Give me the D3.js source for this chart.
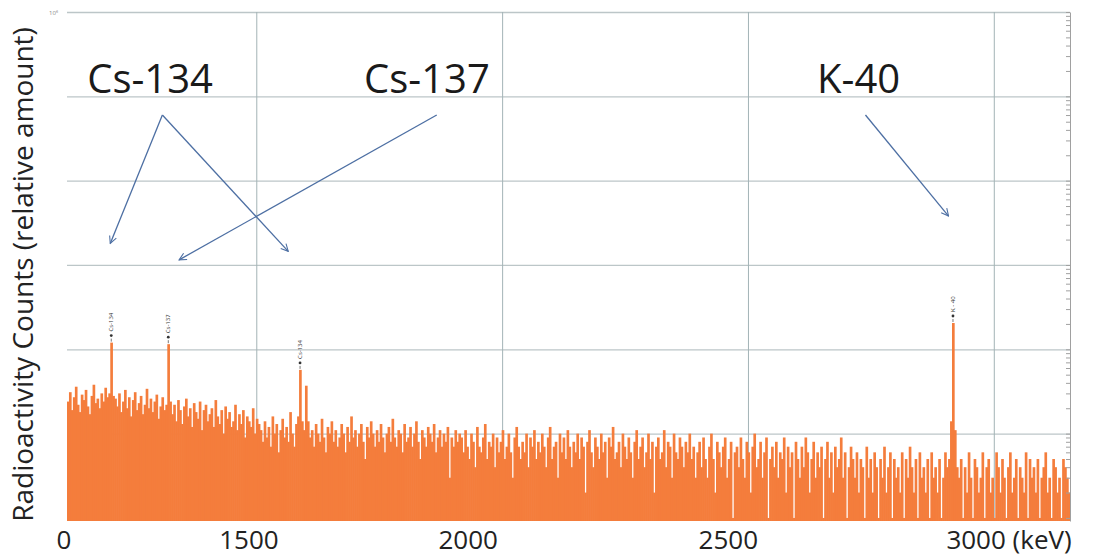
<!DOCTYPE html>
<html lang="en">
<head>
<meta charset="UTF-8">
<title>Gamma spectrum</title>
<script src="https://d3js.org/d3.v7.min.js"></script>
<style>
  body { margin: 0; background: #fff; }
  text { font-family: "Open Sans", sans-serif; }
  .grid .domain { display: none; }
  .hgrid line { stroke: #bcc6c8; stroke-width: 1.3; }
  .vgrid line { stroke: #a3b3b6; stroke-width: 1; }
  .raxis line, .raxis path { stroke: #a0a0a0; }
</style>
</head>
<body>
<div id="chart"></div>
<script>
// counts per bin of 4 channels, first bin starts at channel 1115
var binStart = 1115;
var binWidth = 4;
var counts = [
  24, 31, 19, 27, 36, 22, 18, 29, 25, 33, 21, 17, 28, 38, 23, 26, 20, 30, 24, 35, 27, 30,
  120,
  28, 26, 21, 30, 18, 24, 33, 20, 27, 16, 25, 31, 19, 23, 28, 17, 22, 34, 20, 26, 18, 24, 29, 15, 21, 27, 19, 22,
  115,
  24, 17, 22, 14, 25, 19, 13, 21, 26, 16, 20, 12, 23, 18, 15, 24, 11, 19, 22, 14,
  17, 20, 12, 25, 16, 13, 19, 10, 21, 15, 18, 12, 14, 22, 11, 17, 13, 19, 9, 16,
  14, 12, 20, 10, 15, 13,
  11, 8, 14, 9, 12, 7, 16, 10, 13, 6, 11, 15, 9, 12, 8, 18, 10, 7, 13, 16,
  57, 14, 11, 37,
  14, 9, 11, 7, 13, 10, 8, 15, 9, 6, 12, 10, 14, 8, 11, 7, 9, 13, 10, 6,
  12, 8, 16, 9, 11, 7, 10, 13, 8, 5, 12, 9, 14, 10, 7, 11, 8, 13, 9, 6,
  10, 12, 8, 15, 9, 7, 11, 10, 6, 13, 8, 9, 12, 7, 10, 14, 8, 5, 11, 9,
  7, 12, 10, 8, 13, 6, 9, 11, 7, 10, 8, 12, 3, 9, 7, 11, 8, 10,
  9, 6, 11, 7, 5, 10, 8, 4, 12, 7, 6, 9, 13, 5, 8, 7, 10, 4, 9, 6,
  8, 11, 5, 7, 10, 6, 3, 9, 12, 7, 5, 8, 6, 10, 4, 9, 7, 11, 5, 8,
  6, 10, 7, 4, 9, 12, 5, 7, 8, 3, 10, 6, 9, 5, 11, 7, 4, 8, 6, 10,
  5, 9, 7, 2, 8, 11, 6, 4, 9, 7, 5, 10, 6, 8, 3, 9, 7, 12, 5, 6,
  8, 4, 10, 7, 5, 9, 6, 3, 8, 11, 5, 7, 9, 4, 6, 10, 5, 8, 2, 7,
  9, 5, 6, 11, 4, 8, 7, 3, 10, 6, 5, 9, 7, 4, 8, 6, 10, 5, 7, 3,
  6, 8, 4, 9, 5, 3, 7, 10, 5, 2, 8, 6, 4, 7, 9, 3, 5, 8, 1, 6,
  7, 4, 9, 5, 3, 8, 6, 2, 7, 10, 4, 5, 8, 3, 6, 9, 1, 5, 7, 4,
  8, 3, 6, 5, 9, 2, 7, 4, 6, 1, 8, 5, 3, 7, 4, 9, 6, 2, 5, 8,
  3, 6, 4, 7, 1, 5, 8, 3, 6, 2, 7, 4, 5, 9, 3, 6, 1, 4, 7, 5,
  3, 6, 2, 5, 4, 1, 7, 3, 5, 2, 6, 4, 1, 5, 3, 7, 2, 4, 6, 1,
  5, 3, 4, 2, 6, 1, 5, 3, 7, 4, 2, 5, 1, 6, 3, 4, 2, 5, 1, 6,
  3, 4, 2, 5, 1, 3, 6, 4,
  5, 14, 205, 11, 4,
  3, 5, 1, 4, 2, 6, 3, 1, 5, 4, 2, 3, 6, 1, 4, 5, 2, 3, 1, 6,
  4, 2, 5, 3, 1, 4, 6, 2, 3, 5, 1, 4, 3, 2, 6, 1, 5, 3, 4, 2,
  5, 1, 3, 4, 6, 2, 3, 1, 5, 4, 2, 3, 1, 5, 4, 3, 2
];

var xGrid = [1500, 2000, 2500, 3000];
var yGrid = [10, 100, 1000, 10000, 100000, 1000000];
var xTickAt = [1108, 1484, 1930, 2459, 3030];
var xTickLabels = ["0", "1500", "2000", "2500", "3000 (keV)"];

var peakNames = ["Cs-134", "Cs-137", "Cs-134", "K - 40"];
var peakChannels = [1205, 1321, 1589, 2917];

var calloutNames = ["Cs-134", "Cs-137", "K-40"];
var calloutAt = [[1284, 1.1e5], [1847, 1.1e5], [2725, 1.1e5]];
var arrowFrom = [[1309, 6e4], [1309, 6e4], [1867, 6e4], [2739, 6e4]];
var arrowTo = [[1203, 1800], [1565, 1450], [1343, 1150], [2908, 3800]];

var width = 1101, height = 558;
var chEnd = binStart + binWidth * counts.length;

var svg = d3.select("#chart").append("svg")
  .attr("width", width)
  .attr("height", height);

var x = d3.scaleLinear().domain([binStart, chEnd]).range([67, 1070]);
var y = d3.scaleLog().domain([0.92, 1e6]).range([521, 12]);
var floor = y.domain()[0];

// grid
svg.append("g")
  .attr("class", "grid hgrid")
  .attr("transform", "translate(" + x.range()[0] + ",0)")
  .call(d3.axisLeft(y).tickValues(yGrid).tickSize(-(x.range()[1] - x.range()[0])).tickFormat(""));

svg.append("g")
  .attr("class", "grid vgrid")
  .attr("transform", "translate(0," + y.range()[0] + ")")
  .call(d3.axisBottom(x).tickValues(xGrid).tickSize(-(y.range()[0] - y.range()[1])).tickFormat(""));

// spectrum bars (slight overlap so no seams show)
var barW = x(binStart + binWidth) - x(binStart);
svg.append("g")
  .selectAll("rect")
  .data(counts)
  .join("rect")
  .attr("x", (d, i) => x(binStart + binWidth * i))
  .attr("width", (d, i) => i === counts.length - 1 ? barW : barW + 0.7)
  .attr("y", d => y(Math.max(d, floor)))
  .attr("height", d => y(floor) - y(Math.max(d, floor)))
  .attr("fill", "#f47d3c");

// right-hand log axis with minor ticks
svg.append("g")
  .attr("class", "raxis")
  .attr("transform", "translate(" + x.range()[1] + ",0)")
  .call(d3.axisLeft(y).tickValues(y.ticks().filter(t => t >= 1)).tickSize(4).tickFormat("").tickSizeOuter(0))
  .call(g => g.select(".domain").attr("stroke", "#a0a0a0"));

svg.append("text")
  .attr("x", 58)
  .attr("y", 15)
  .attr("text-anchor", "end")
  .attr("font-size", 6)
  .attr("fill", "#888")
  .text("10⁶");

// x labels
svg.append("g")
  .attr("transform", "translate(0," + y.range()[0] + ")")
  .call(d3.axisBottom(x).tickValues(xTickAt).tickSize(0).tickPadding(10)
    .tickFormat((d, i) => xTickLabels[i]))
  .call(g => g.select(".domain").remove())
  .call(g => g.selectAll("text")
    .attr("font-family", "'Open Sans', sans-serif")
    .attr("font-size", 26)
    .attr("fill", "#222"));

// y title
svg.append("text")
  .attr("transform", "translate(33," + ((y.range()[0] + 28) / 2) + ") rotate(-90)")
  .attr("text-anchor", "middle")
  .attr("font-size", 28)
  .attr("fill", "#222")
  .text("Radioactivity Counts (relative amount)");

// peak markers
peakChannels.forEach(function (ch, k) {
  var i = Math.floor((ch - binStart) / binWidth);
  var px = x(binStart + binWidth * i + binWidth / 2);
  var py = y(counts[i]);
  svg.append("line")
    .attr("x1", px).attr("x2", px)
    .attr("y1", py - 4).attr("y2", py - 1)
    .attr("stroke", "#555").attr("stroke-width", 0.8);
  svg.append("circle")
    .attr("cx", px).attr("cy", py - 7)
    .attr("r", 1.4)
    .attr("fill", "#333");
  svg.append("text")
    .attr("transform", "translate(" + (px + 2) + "," + (py - 11) + ") rotate(-90)")
    .attr("font-size", 6)
    .attr("fill", "#333")
    .text(peakNames[k]);
});

// callouts
svg.append("defs").append("marker")
  .attr("id", "arrow")
  .attr("viewBox", "0 0 10 10")
  .attr("refX", 9).attr("refY", 5)
  .attr("markerWidth", 9).attr("markerHeight", 9)
  .attr("markerUnits", "userSpaceOnUse")
  .attr("orient", "auto")
  .append("path")
  .attr("d", "M1,1 L9,5 L1,9")
  .attr("fill", "none")
  .attr("stroke", "#4d6fa3")
  .attr("stroke-width", 1.2);

arrowFrom.forEach(function (f, k) {
  var t = arrowTo[k];
  svg.append("line")
    .attr("x1", x(f[0])).attr("y1", y(f[1]))
    .attr("x2", x(t[0])).attr("y2", y(t[1]))
    .attr("stroke", "#4d6fa3")
    .attr("stroke-width", 1.3)
    .attr("marker-end", "url(#arrow)");
});

calloutNames.forEach(function (name, k) {
  svg.append("text")
    .attr("x", x(calloutAt[k][0]))
    .attr("y", y(calloutAt[k][1]))
    .attr("text-anchor", "middle")
    .attr("font-size", 40)
    .attr("fill", "#1a1a1a")
    .text(name);
});
</script>
</body>
</html>
